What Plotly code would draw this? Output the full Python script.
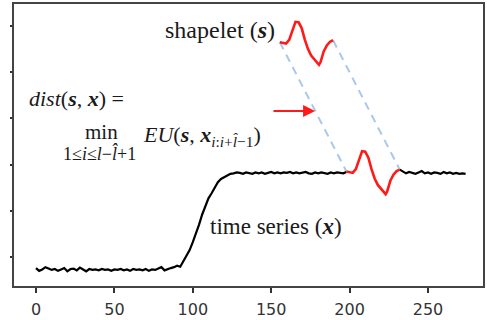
import plotly.graph_objects as go

# ---- data ----
series_x_left = list(range(0, 200, 2))
series_y_left = [
    -0.24, -0.30, -0.27, -0.22, -0.25, -0.28, -0.26, -0.30, -0.27, -0.24,
    -0.31, -0.26, -0.25, -0.29, -0.23, -0.27, -0.31, -0.26, -0.28, -0.27,
    -0.29, -0.26, -0.28, -0.27, -0.30, -0.27, -0.28, -0.26, -0.29, -0.27,
    -0.30, -0.26, -0.28, -0.27, -0.29, -0.26, -0.30, -0.27, -0.28, -0.25,
    -0.22, -0.29, -0.26, -0.24, -0.22, -0.19, -0.21, -0.10, 0.02, 0.15,
    0.32, 0.50, 0.70, 0.92, 1.12, 1.27, 1.38, 1.50, 1.62, 1.69,
    1.73, 1.77, 1.80, 1.81, 1.83, 1.82, 1.80, 1.83, 1.82, 1.80,
    1.83, 1.81, 1.83, 1.80, 1.82, 1.84, 1.81, 1.83, 1.81, 1.83,
    1.82, 1.84, 1.81, 1.83, 1.81, 1.82, 1.84, 1.81, 1.80, 1.83,
    1.81, 1.83, 1.82, 1.80, 1.83, 1.81, 1.83, 1.82, 1.81, 1.84,
]
series_x_right = list(range(232, 276, 2))
series_y_right = [
    1.89, 1.84, 1.81, 1.84, 1.82, 1.80, 1.83, 1.86, 1.81, 1.83,
    1.80, 1.83, 1.82, 1.80, 1.84, 1.81, 1.83, 1.80, 1.82, 1.80,
    1.81, 1.80,
]
shapelet_x = [198, 200, 202, 204, 206, 208, 210, 212, 214, 216, 218, 220,
              222, 223, 224, 226, 228, 230, 232]
shapelet_y = [1.85, 1.84, 1.82, 1.90, 2.10, 2.29, 2.28, 2.15, 1.90, 1.70,
              1.56, 1.47, 1.40, 1.36, 1.42, 1.65, 1.78, 1.86, 1.89]
copy_dx = -42.5
copy_dy = 2.80
x_ticks = [0, 50, 100, 150, 200, 250]
y_ticks = [0, 1, 2, 3, 4, 5]

SERIF = "Liberation Serif, Times New Roman, serif"
RED = "#ff1a1a"
BLUE = "#a9c9e8"

copy_x = [v + copy_dx for v in shapelet_x]
copy_y = [v + copy_dy for v in shapelet_y]

fig = go.Figure()
# dashed connectors
for i in (0, -1):
    fig.add_trace(go.Scatter(
        x=[copy_x[i], shapelet_x[i]], y=[copy_y[i], shapelet_y[i]],
        mode="lines", line=dict(color=BLUE, width=2, dash="8px,6px"),
        hoverinfo="skip", showlegend=False))
fig.add_trace(go.Scatter(x=series_x_left, y=series_y_left, mode="lines",
                         line=dict(color="black", width=2.2), showlegend=False))
fig.add_trace(go.Scatter(x=series_x_right, y=series_y_right, mode="lines",
                         line=dict(color="black", width=2.2), showlegend=False))
fig.add_trace(go.Scatter(x=shapelet_x, y=shapelet_y, mode="lines",
                         line=dict(color=RED, width=2.6), showlegend=False))
fig.add_trace(go.Scatter(x=copy_x, y=copy_y, mode="lines",
                         line=dict(color=RED, width=2.6), showlegend=False))

# arrow
fig.add_annotation(x=178, y=3.16, ax=150.5, ay=3.16, xref="x", yref="y",
                   axref="x", ayref="y", text="", showarrow=True,
                   arrowhead=2, arrowsize=1.2, arrowwidth=2, arrowcolor=RED)

TXT = "#1a1a1a"
def txt(x, y, s, size, xanchor="left"):
    fig.add_annotation(x=x, y=y, xref="x", yref="y", text=s, showarrow=False,
                       xanchor=xanchor, yanchor="middle",
                       font=dict(family=SERIF, size=size, color=TXT))

txt(81, 4.91, "shapelet (<b><i>s</i></b>)", 24)
txt(-5.7, 3.44, "<i>dist</i>(<b><i>s</i></b>, <b><i>x</i></b>) =", 22)
txt(41.5, 2.71, "min", 21, "center")
txt(40.8, 2.25, "1≤<i>i</i>≤<i>l</i>−<i>l̂</i>+1", 18, "center")
txt(67.0, 2.62, "<i>EU</i>(<b><i>s</i></b>, <b><i>x</i></b><sub><i>i</i>:<i>i</i>+<i>l̂</i>−1</sub>)", 22)
txt(109.7, 0.65, "time series (<b><i>x</i></b>)", 23)

fig.update_xaxes(range=[-14.03, 285.1], tickvals=x_ticks, ticks="outside",
                 ticklen=5, tickwidth=1.5, tickcolor="#333", showgrid=False,
                 zeroline=False, showline=True, linecolor="#444", linewidth=1.6,
                 mirror=True, automargin=False, ticklabelstandoff=3,
                 tickfont=dict(family="DejaVu Sans", size=16, color="#333"))
fig.update_yaxes(range=[-0.628, 5.476], tickvals=y_ticks, ticks="outside",
                 ticklen=2, tickwidth=1.5, tickcolor="#333", showticklabels=False,
                 showgrid=False, zeroline=False, showline=True, linecolor="#444",
                 linewidth=1.6, mirror=True, automargin=False)
fig.update_layout(width=487, height=320, margin=dict(l=14, r=4, t=4, b=34),
                  plot_bgcolor="white", paper_bgcolor="white", showlegend=False)
fig.write_html("out.html", config={"displayModeBar": False},
               post_script="document.body.style.margin='0';document.body.style.padding='0';")
